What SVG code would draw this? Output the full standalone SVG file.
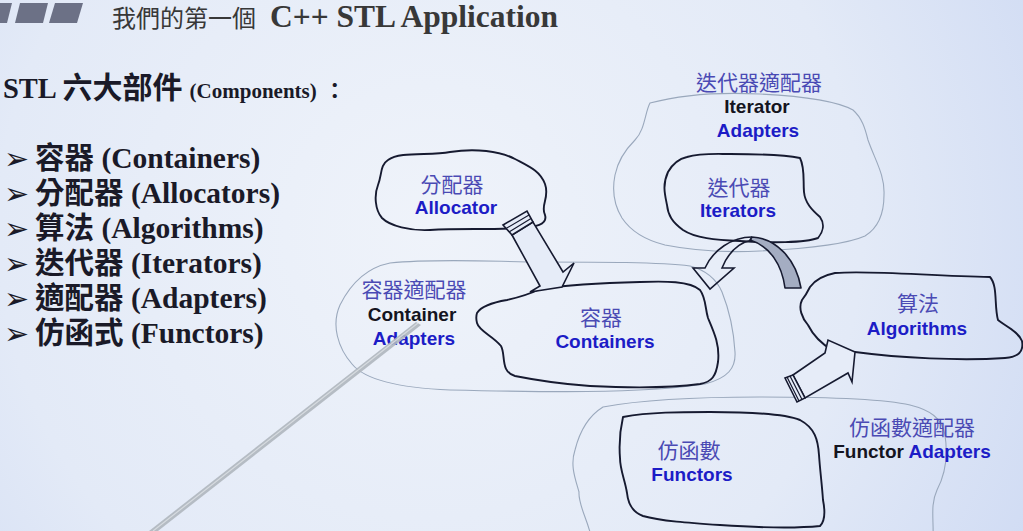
<svg xmlns="http://www.w3.org/2000/svg" width="1023" height="531" viewBox="0 0 1023 531">
<defs>
<radialGradient id="bg" cx="430" cy="230" r="720" gradientUnits="userSpaceOnUse">
<stop offset="0" stop-color="#eff3fa"/>
<stop offset="0.6" stop-color="#e3eaf7"/>
<stop offset="1" stop-color="#cdd9f3"/>
</radialGradient>
<linearGradient id="stick" x1="0" y1="0" x2="1" y2="1">
<stop offset="0" stop-color="#9aa2ab"/>
<stop offset="1" stop-color="#c4cad0"/>
</linearGradient>
<style>
.cloud{fill:none;stroke:#161a30;stroke-width:1.9;stroke-linejoin:round}
.gcloud{fill:none;stroke:#9aa8bc;stroke-width:1.1}
.arrow{fill:#e6ecf8;stroke:#161a30;stroke-width:1.6;stroke-linejoin:miter}
.stripe{fill:none;stroke:#161a30;stroke-width:1.2}
.cn{font-family:"Noto Sans CJK TC","Noto Sans CJK SC",sans-serif;font-size:21px;fill:#4a4ab4;text-anchor:middle}
.en{font-family:"Liberation Sans",Arial,sans-serif;font-weight:bold;font-size:19px;fill:#1c1cc6;text-anchor:middle}
.k{fill:#141420}
.li{font-family:"Liberation Serif","Noto Sans CJK TC",serif;font-weight:bold;font-size:29.5px;fill:#1a1a28}
.licn{font-family:"Noto Sans CJK TC","Noto Sans CJK SC",sans-serif;font-weight:bold}
.bul{font-family:"DejaVu Sans",sans-serif;font-weight:normal;font-size:30px;fill:#1a1a28}
</style>
</defs>
<rect width="1023" height="531" fill="url(#bg)"/>

<g id="title-bars" fill="#6c7186">
<polygon points="-12,3 12,3 7,23 -17,23"/>
<polygon points="20,3 48,3 43,23 15,23"/>
<polygon points="55,3 83,3 77,23 49,23"/>
</g>
<text id="title" x="112" y="27" font-family="Noto Sans CJK TC, sans-serif" font-size="24" fill="#383838">我們的第一個<tspan x="270" font-family="Liberation Serif, serif" font-weight="bold" font-size="31.5">C++ STL Application</tspan></text>

<text id="subtitle" x="3" y="98" fill="#1a1a28" font-family="Liberation Serif, serif" font-weight="bold" font-size="28.5">STL <tspan font-family="Noto Sans CJK TC, sans-serif" font-size="30">六大部件</tspan> <tspan font-size="21">(Components)</tspan> <tspan font-family="Noto Sans CJK TC, sans-serif" font-size="22">：</tspan></text>

<g id="bullets" class="bul">
<text x="4" y="169">➢</text>
<text x="4" y="204">➢</text>
<text x="4" y="239">➢</text>
<text x="4" y="274">➢</text>
<text x="4" y="309">➢</text>
<text x="4" y="344">➢</text>
</g>
<g id="list" class="li">
<text x="35" y="168"><tspan class="licn">容器</tspan> (Containers)</text>
<text x="35" y="203"><tspan class="licn">分配器</tspan> (Allocators)</text>
<text x="35" y="238"><tspan class="licn">算法</tspan> (Algorithms)</text>
<text x="35" y="273"><tspan class="licn">迭代器</tspan> (Iterators)</text>
<text x="35" y="308"><tspan class="licn">適配器</tspan> (Adapters)</text>
<text x="35" y="343"><tspan class="licn">仿函式</tspan> (Functors)</text>
</g>

<g id="container-adapters">
<path class="gcloud" d="M 390 263 C 440 258, 500 262, 540 262 C 600 262, 660 262, 690 266 C 705 270, 716 278, 722 292 C 730 312, 734 335, 735 352 C 736 368, 728 378, 705 384 C 640 394, 540 392, 450 390 C 400 388, 365 380, 352 364 C 338 348, 331 325, 340 305 C 350 285, 365 268, 390 263 Z"/>
<text class="cn" x="414" y="297">容器適配器</text>
<text class="en k" x="412" y="321">Container</text>
<text class="en" x="414" y="345">Adapters</text>
</g>

<g id="iterator-adapters">
<path class="gcloud" d="M 650 103 C 680 95, 720 92, 760 94 C 800 96, 835 100, 853 110 C 862 118, 865 128, 868 140 C 875 160, 885 175, 884 195 C 884 215, 878 228, 865 236 C 845 245, 800 249, 760 251 C 720 253, 690 250, 665 245 C 645 240, 630 230, 622 218 C 614 205, 612 190, 615 175 C 618 160, 625 150, 635 140 C 645 130, 645 112, 650 103 Z"/>
<text class="cn" x="759" y="90">迭代器適配器</text>
<text class="en k" x="757" y="113">Iterator</text>
<text class="en" x="758" y="137">Adapters</text>
</g>

<g id="functor-adapters">
<path class="gcloud" d="M 603 407 C 640 400, 700 397, 760 397 C 820 397, 880 398, 910 405 C 930 410, 942 418, 945 435 C 948 455, 945 475, 937 490 C 930 505, 934 520, 933 540 L 592 540 C 588 520, 578 505, 579 492 C 575 478, 570 465, 575 450 C 580 430, 590 415, 603 407 Z"/>
<text class="cn" x="912" y="435">仿函數適配器</text>
<text class="en" x="912" y="458"><tspan class="k">Functor</tspan> Adapters</text>
</g>

<g id="allocator">
<path class="cloud" d="M 388 160 C 400 151, 430 156, 450 152 C 475 148, 500 151, 515 159 C 530 167, 540 171, 545 184 C 550 198, 540 205, 545 215 C 548 225, 535 227, 520 228 C 490 230, 460 228, 430 230 C 410 231, 390 226, 382 218 C 375 210, 374 195, 378 185 C 382 175, 380 165, 388 160 Z"/>
<text class="cn" x="452" y="192">分配器</text>
<text class="en" x="456" y="214">Allocator</text>
</g>

<g id="containers">
<path class="cloud" d="M 477 313 C 482 305, 495 302, 507 300 C 520 297, 532 293, 540 289 C 560 286, 600 283, 640 282 C 665 281, 690 281, 700 290 C 706 298, 705 308, 708 318 C 714 332, 720 345, 718 362 C 716 376, 712 382, 700 384 C 670 388, 630 388, 590 386 C 560 384, 540 381, 515 376 C 500 372, 506 355, 501 346 C 493 336, 479 331, 477 323 C 476 319, 476 316, 477 313 Z"/>
<text class="cn" x="601" y="325">容器</text>
<text class="en" x="605" y="348">Containers</text>
</g>

<g id="iterators">
<path class="cloud" d="M 687 157 C 700 153, 715 154, 730 154 C 760 154, 785 155, 800 158 C 805 168, 803 180, 804 192 C 805 203, 812 210, 820 217 C 825 224, 823 232, 818 238 C 805 243, 770 243, 740 241 C 715 240, 695 238, 683 230 C 672 222, 668 215, 667 205 C 665 195, 662 185, 668 172 C 672 165, 678 159, 687 157 Z"/>
<text class="cn" x="739" y="195">迭代器</text>
<text class="en" x="738" y="217">Iterators</text>
</g>

<g id="algorithms">
<path class="cloud" d="M 810 287 C 815 280, 825 275, 835 273 C 870 270, 930 276, 990 277 C 998 286, 994 306, 998 320 C 1005 326, 1018 331, 1022 341 C 1024 352, 1018 357, 1005 358 C 960 361, 900 358, 855 352 C 845 351, 838 351, 832 350 C 822 344, 813 335, 808 325 C 802 318, 798 308, 802 300 C 806 295, 808 291, 810 287 Z"/>
<text class="cn" x="918" y="311">算法</text>
<text class="en" x="917" y="335">Algorithms</text>
</g>

<g id="functors">
<path class="cloud" d="M 623 417 C 650 412, 680 412, 710 412 C 750 412, 785 414, 800 420 C 815 428, 818 440, 819 455 C 820 470, 822 485, 823 500 C 825 510, 826 520, 820 526 C 790 529, 750 527, 720 525 C 690 523, 660 521, 643 516 C 632 512, 628 503, 627 493 C 625 480, 620 470, 620 458 C 619 445, 620 430, 623 417 Z"/>
<text class="cn" x="689" y="458">仿函數</text>
<text class="en" x="692" y="481">Functors</text>
</g>

<g id="connectors">
<polygon class="arrow" points="512,235 540,286 530,292 562,287 574,263 563,272 533,222"/>
<polygon class="arrow" points="503,225 527,211 533,222 512,235"/>
<path class="stripe" d="M 506 228.5 L 529 215 M 509 232 L 531 218.5"/>
<path d="M 752 237 C 775 238, 796 258, 801 288 L 785 288 C 782 265, 770 246, 750 240 Z" fill="#a4adc2" stroke="#161a30" stroke-width="1.6" stroke-linejoin="round"/>
<path d="M 752 237 C 732 237, 713 250, 705 268 L 693 268 L 710 289 L 734 268 L 722 268 C 728 253, 738 243, 752 240" fill="none" stroke="#161a30" stroke-width="1.6" stroke-linejoin="miter"/>
<polygon class="arrow" points="793,375 825,353 828,340 855,352 852,382 848,373 805,398"/>
<polygon class="arrow" points="785,378 793,375 805,398 797,402"/>
<path class="stripe" d="M 787 377 L 799 401 M 790 376 L 802 399.5"/>
</g>

<g id="pointer">
<polygon points="149,531 158,531 421,325 416,322" fill="url(#stick)" opacity="0.9"/>
<line x1="153" y1="531" x2="418" y2="323" stroke="#dfe3e7" stroke-width="1.2" opacity="0.8"/>
</g>
</svg>
